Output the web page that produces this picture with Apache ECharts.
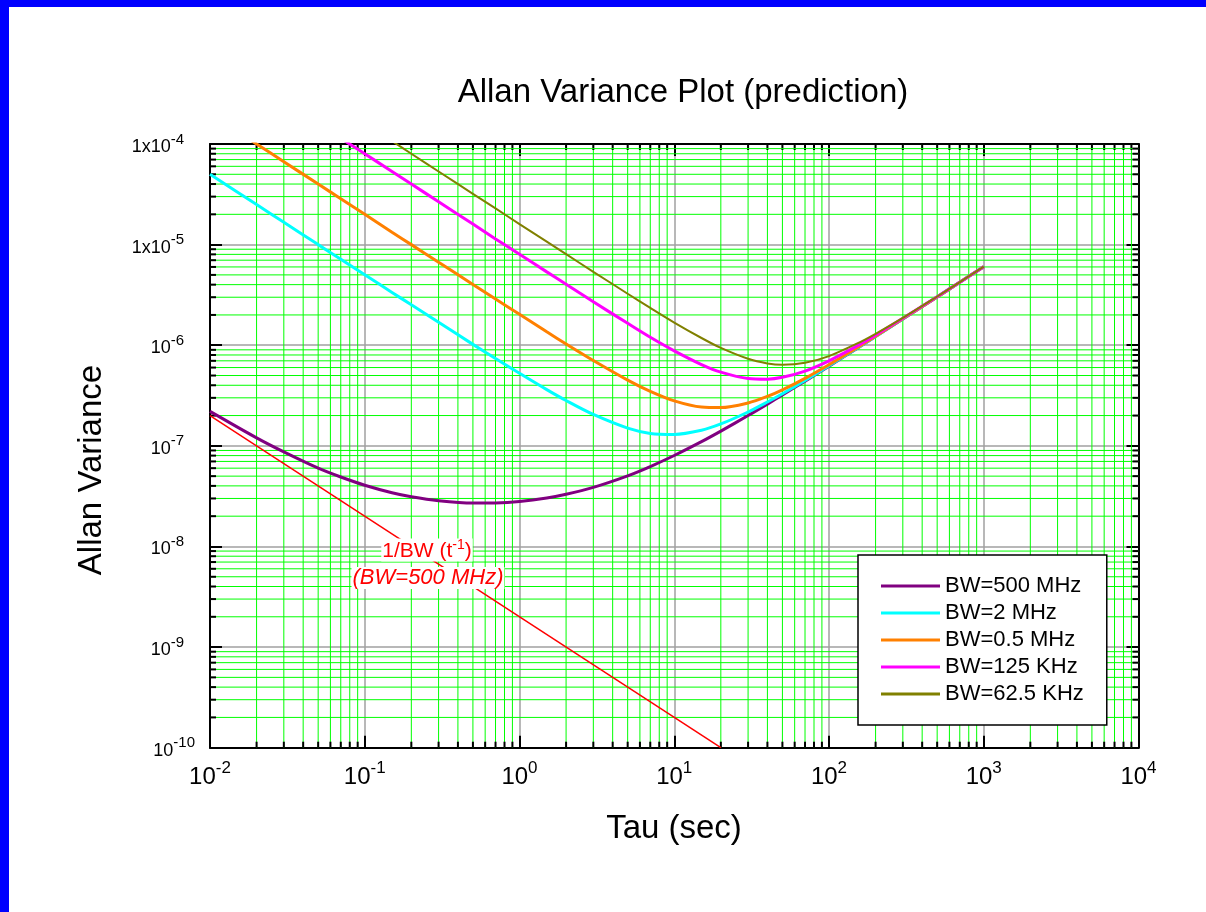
<!DOCTYPE html>
<html><head><meta charset="utf-8">
<script src="https://cdn.jsdelivr.net/npm/echarts@6/dist/echarts.min.js"></script>
<style>
html,body{margin:0;padding:0;background:#fff;}
#wrap{position:relative;width:1206px;height:912px;overflow:hidden;background:#fff;}
#chart{position:absolute;left:0;top:0;width:1206px;height:912px;}
.bt{position:absolute;left:0;top:0;width:1206px;height:7px;background:#0000ff;}
.bl{position:absolute;left:0;top:0;width:9px;height:912px;background:#0000ff;}
</style></head><body>
<div id="wrap"><div id="chart"></div><div class="bt"></div><div class="bl"></div></div>
<script>
// ---- data ----
const tau = [0.01, 0.02, 0.03, 0.05, 0.07, 0.1, 0.15, 0.2, 0.3, 0.5, 0.7, 1, 1.5, 2, 3, 5, 7, 10, 15, 20, 30, 40, 50, 70, 100, 150, 200, 300, 500, 700, 1000];
const bw500MHz = [2.2e-7, 1.2e-7, 8.7e-8, 6.0e-8, 4.9e-8, 4.06e-8, 3.42e-8, 3.12e-8, 2.85e-8, 2.7e-8, 2.71e-8, 2.8e-8, 3.03e-8, 3.3e-8, 3.87e-8, 5.04e-8, 6.23e-8, 8.02e-8, 1.1e-7, 1.4e-7, 2.0e-7, 2.6e-7, 3.2e-7, 4.4e-7, 6.2e-7, 9.2e-7, 1.22e-6, 1.82e-6, 3.02e-6, 4.22e-6, 6.02e-6];
const bw2MHz = [5.0e-5, 2.5e-5, 1.67e-5, 1.0e-5, 7.16e-6, 5.02e-6, 3.35e-6, 2.52e-6, 1.69e-6, 1.02e-6, 7.38e-7, 5.26e-7, 3.62e-7, 2.82e-7, 2.05e-7, 1.5e-7, 1.33e-7, 1.3e-7, 1.43e-7, 1.65e-7, 2.17e-7, 2.73e-7, 3.3e-7, 4.47e-7, 6.25e-7, 9.23e-7, 1.22e-6, 1.82e-6, 3.02e-6, 4.22e-6, 6.02e-6];
const bw05MHz = [2.0e-4, 1.0e-4, 6.67e-5, 4.0e-5, 2.86e-5, 2.0e-5, 1.33e-5, 1.0e-5, 6.69e-6, 4.02e-6, 2.88e-6, 2.03e-6, 1.36e-6, 1.03e-6, 7.05e-7, 4.5e-7, 3.48e-7, 2.8e-7, 2.43e-7, 2.4e-7, 2.67e-7, 3.1e-7, 3.6e-7, 4.69e-7, 6.4e-7, 9.33e-7, 1.23e-6, 1.83e-6, 3.02e-6, 4.22e-6, 6.02e-6];
const bw125KHz = [null, null, null, 1.6e-4, 1.14e-4, 8.0e-5, 5.33e-5, 4.0e-5, 2.67e-5, 1.6e-5, 1.14e-5, 8.03e-6, 5.36e-6, 4.03e-6, 2.7e-6, 1.65e-6, 1.2e-6, 8.8e-7, 6.43e-7, 5.4e-7, 4.67e-7, 4.6e-7, 4.8e-7, 5.54e-7, 7.0e-7, 9.73e-7, 1.26e-6, 1.85e-6, 3.04e-6, 4.23e-6, 6.03e-6];
const bw625KHz = [null, null, null, null, null, 1.6e-4, 1.07e-4, 8.0e-5, 5.33e-5, 3.2e-5, 2.29e-5, 1.6e-5, 1.07e-5, 8.03e-6, 5.37e-6, 3.25e-6, 2.35e-6, 1.68e-6, 1.18e-6, 9.4e-7, 7.33e-7, 6.6e-7, 6.4e-7, 6.69e-7, 7.8e-7, 1.03e-6, 1.3e-6, 1.87e-6, 3.05e-6, 4.24e-6, 6.04e-6];
const refTau = [0.01, 20];
const refVal = [2e-7, 1e-10];
const seriesNames = ['BW=500 MHz', 'BW=2 MHz', 'BW=0.5 MHz', 'BW=125 KHz', 'BW=62.5 KHz'];
const xDecadeExps = [-2, -1, 0, 1, 2, 3];
const yDecadeExps = [-10, -9, -8, -7, -6, -5];
const minorMultipliers = [2, 3, 4, 5, 6, 7, 8, 9];

const FONT = "'Liberation Sans', Arial, sans-serif";
const colors = ['#800080', '#00ffff', '#ff8000', '#ff00ff', '#808000'];
const widths = [3, 3, 3, 3, 2];
const allSeries = [bw500MHz, bw2MHz, bw05MHz, bw125KHz, bw625KHz];

function pairs(xs, ys) { const out = []; for (let i = 0; i < xs.length; i++) { if (ys[i] != null) out.push([xs[i], ys[i]]); } return out; }
const xMinor = []; xDecadeExps.forEach(e => minorMultipliers.forEach(m => xMinor.push(m * Math.pow(10, e))));
const yMinor = []; yDecadeExps.forEach(e => minorMultipliers.forEach(m => yMinor.push(m * Math.pow(10, e))));

const chart = echarts.init(document.getElementById('chart'), null, {renderer: 'canvas'});

function xLabel(v) { const e = Math.round(Math.log10(v)); return '{b|10}{s|' + e + '}'; }
function yLabel(v) {
  const e = Math.round(Math.log10(v));
  const base = e >= -5 ? '1x10' : '10';
  const pad = String(e).length < 3 ? '{g|}' : '';
  return '{b|' + base + '}{s|' + e + '}' + pad;
}
const xRich = {
  b: {fontFamily: FONT, fontSize: 24, color: '#000', lineHeight: 30, verticalAlign: 'bottom'},
  s: {fontFamily: FONT, fontSize: 17, color: '#000', lineHeight: 17, verticalAlign: 'top'}
};
const yRich = {
  b: {fontFamily: FONT, fontSize: 18, color: '#000', lineHeight: 24, verticalAlign: 'bottom'},
  s: {fontFamily: FONT, fontSize: 15, color: '#000', lineHeight: 14, verticalAlign: 'top'},
  g: {width: 11, lineHeight: 14}
};
const baseAxis = {
  type: 'log', logBase: 10,
  axisLine: {show: true, onZero: false, lineStyle: {color: '#000', width: 2}},
  axisTick: {show: true, inside: true, length: 12, lineStyle: {color: '#000', width: 2}},
  minorTick: {show: false}, minorSplitLine: {show: false},
  splitLine: {show: true, lineStyle: {color: '#a0a0a0', width: 1.5}}
};

function minorX(params, api) {
  const cs = params.coordSys;
  const x = api.coord([api.value(0), 1e-7])[0];
  const top = cs.y, bot = cs.y + cs.height;
  return {type: 'group', children: [
    {type: 'line', shape: {x1: x, y1: top, x2: x, y2: bot}, style: {stroke: '#00ff00', lineWidth: 1}},
    {type: 'line', shape: {x1: x, y1: bot, x2: x, y2: bot - 6}, style: {stroke: '#000', lineWidth: 2}},
    {type: 'line', shape: {x1: x, y1: top, x2: x, y2: top + 6}, style: {stroke: '#000', lineWidth: 2}}
  ]};
}
function minorY(params, api) {
  const cs = params.coordSys;
  const y = api.coord([1, api.value(1)])[1];
  const l = cs.x, r = cs.x + cs.width;
  return {type: 'group', children: [
    {type: 'line', shape: {x1: l, y1: y, x2: r, y2: y}, style: {stroke: '#00ff00', lineWidth: 1}},
    {type: 'line', shape: {x1: l, y1: y, x2: l + 6, y2: y}, style: {stroke: '#000', lineWidth: 2}},
    {type: 'line', shape: {x1: r, y1: y, x2: r - 6, y2: y}, style: {stroke: '#000', lineWidth: 2}}
  ]};
}

const series = [
  {type: 'custom', name: 'xminor', renderItem: minorX, data: xMinor.map(v => [v, 1e-7]), z: 1, silent: true, clip: false},
  {type: 'custom', name: 'yminor', renderItem: minorY, data: yMinor.map(v => [1, v]), z: 1, silent: true, clip: false},
  {type: 'line', name: '1/BW', data: pairs(refTau, refVal), symbol: 'none', showSymbol: false,
   lineStyle: {color: '#ff0000', width: 1.5}, itemStyle: {color: '#ff0000'}, z: 3, clip: true, silent: true}
];
allSeries.forEach((arr, i) => {
  series.push({type: 'line', name: seriesNames[i], data: pairs(tau, arr), symbol: 'none', showSymbol: false,
    smooth: 0.3, clip: true, z: 4 + i,
    lineStyle: {color: colors[i], width: widths[i]}, itemStyle: {color: colors[i]}, emphasis: {disabled: true}});
});

chart.setOption({
  animation: false,
  backgroundColor: '#fff',
  grid: {left: 210, top: 144, width: 928.5, height: 603.7, containLabel: false, outerBoundsMode: 'none', show: false},
  xAxis: [
    Object.assign({}, baseAxis, {min: 0.01, max: 10000, position: 'bottom',
      axisLabel: {show: true, margin: 12, showMinLabel: true, showMaxLabel: true, hideOverlap: false,
        formatter: xLabel, rich: xRich}}),
    Object.assign({}, baseAxis, {min: 0.01, max: 10000, position: 'top', axisLabel: {show: false}, splitLine: {show: false}})
  ],
  yAxis: [
    Object.assign({}, baseAxis, {min: 1e-10, max: 1e-4, position: 'left',
      axisLabel: {show: true, margin: 15, showMinLabel: true, showMaxLabel: true, hideOverlap: false,
        formatter: yLabel, rich: yRich}}),
    Object.assign({}, baseAxis, {min: 1e-10, max: 1e-4, position: 'right', axisLabel: {show: false}, splitLine: {show: false}})
  ],
  legend: {
    show: true, orient: 'vertical', left: 858, top: 555,
    data: seriesNames.map(n => ({name: n, icon: 'rect'})),
    itemWidth: 59, itemHeight: 3, itemGap: 5,
    padding: [20, 23, 20, 23],
    borderColor: '#000', borderWidth: 1.5, backgroundColor: '#fff',
    textStyle: {fontFamily: FONT, fontSize: 22, color: '#000'},
    selectedMode: false
  },
  graphic: [
    {type: 'text', x: 683, y: 93, style: {text: 'Allan Variance Plot (prediction)', fontFamily: FONT, fontSize: 33, fill: '#000', align: 'center', verticalAlign: 'middle'}, z: 100},
    {type: 'text', x: 674, y: 829, style: {text: 'Tau (sec)', fontFamily: FONT, fontSize: 33, fill: '#000', align: 'center', verticalAlign: 'middle'}, z: 100},
    {type: 'text', x: 92, y: 470, rotation: Math.PI / 2, style: {text: 'Allan Variance', fontFamily: FONT, fontSize: 33, fill: '#000', align: 'center', verticalAlign: 'middle'}, z: 100},
    {type: 'text', x: 427, y: 550, z: 100, style: {
      text: '{a|1/BW (t}{s|-1}{a|)}', align: 'center', verticalAlign: 'middle', backgroundColor: '#fff', padding: [0, 1, 0, 1],
      rich: {a: {fontFamily: FONT, fontSize: 21, fill: '#ff0000', color: '#ff0000', lineHeight: 23, verticalAlign: 'bottom'},
             s: {fontFamily: FONT, fontSize: 14, fill: '#ff0000', color: '#ff0000', lineHeight: 14, verticalAlign: 'top'}}}},
    {type: 'text', x: 428, y: 578, z: 100, style: {
      text: '(BW=500 MHz)', fontFamily: FONT, fontSize: 22, fontStyle: 'italic', fill: '#ff0000', align: 'center', verticalAlign: 'middle',
      backgroundColor: '#fff', padding: [0, 1, 0, 1]}}
  ],
  series: series
});
</script>
</body></html>
